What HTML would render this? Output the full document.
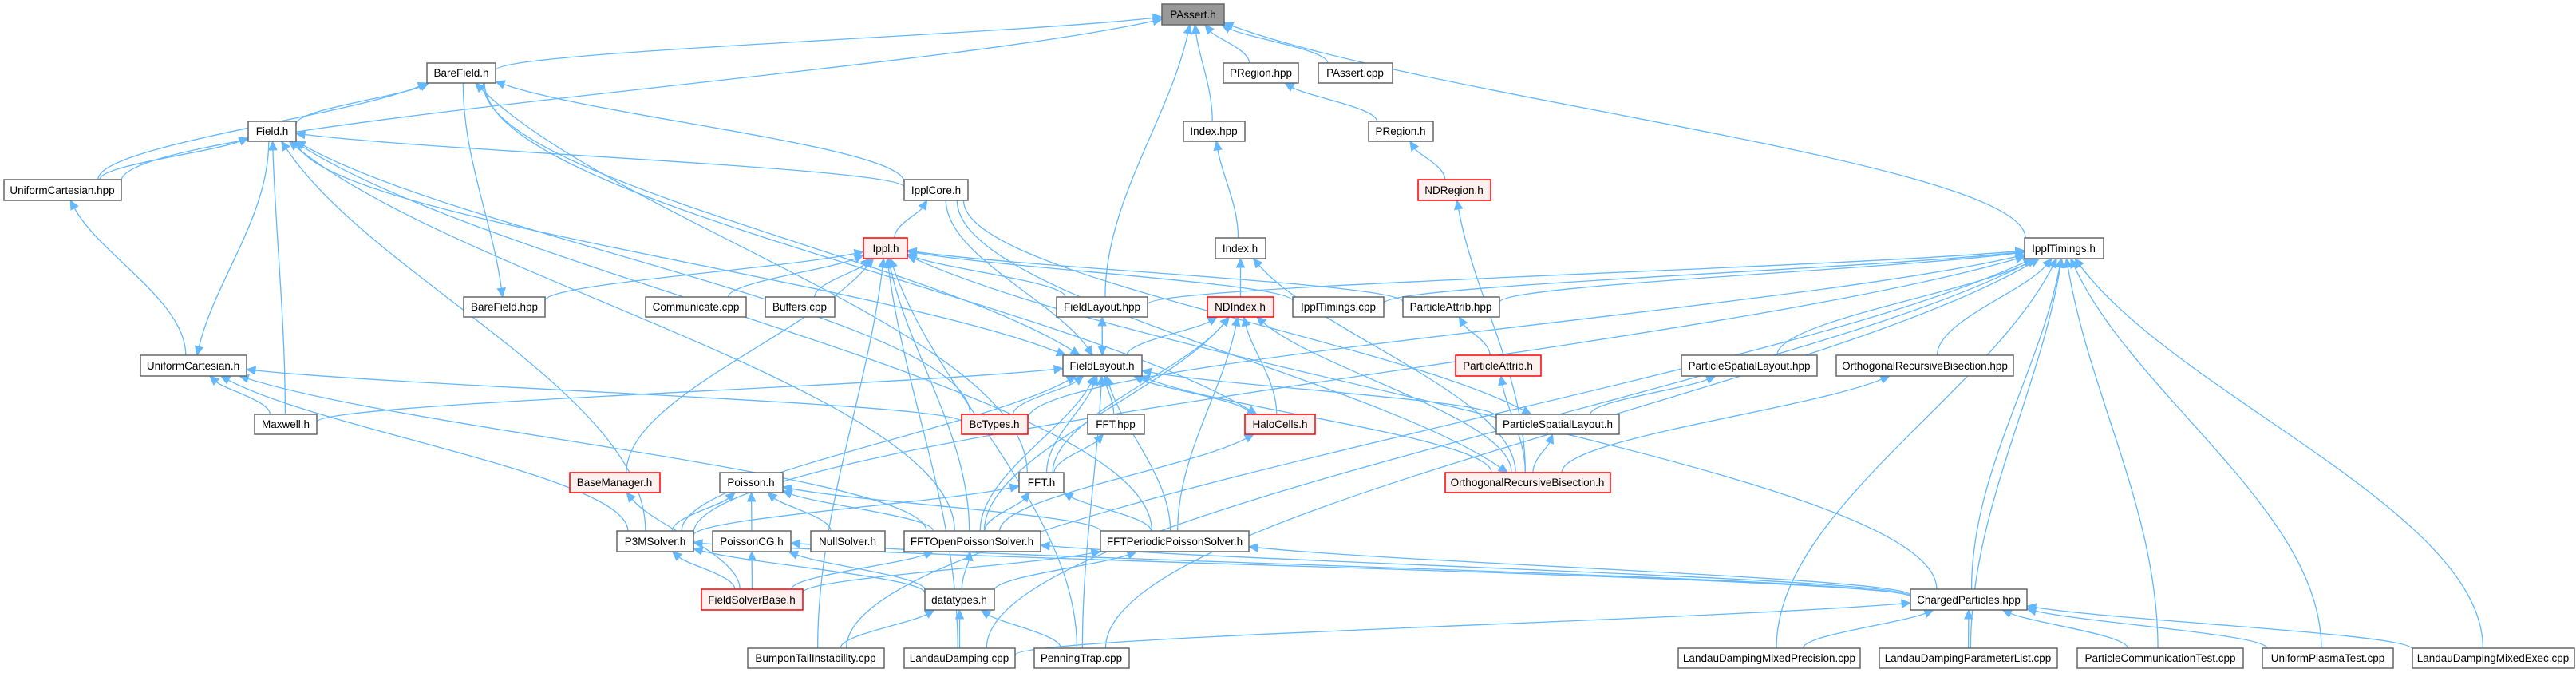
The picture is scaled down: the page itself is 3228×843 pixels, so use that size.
<!DOCTYPE html>
<html><head><meta charset="utf-8"><style>
html,body{margin:0;padding:0;background:#fff;}
svg{display:block;}
text{font-family:"Liberation Sans",Arial,sans-serif;font-size:13.5px;fill:#000;}
</style></head><body>
<svg id="g" width="3228" height="843" viewBox="0 0 3228 843" xmlns="http://www.w3.org/2000/svg">
<g id="edges"></g>
<g id="nodes"></g>
</svg>
<script>
var N={
PAssert:[1456,5,1534,31,'PAssert.h','g'],
BareFieldh:[535,79,621,104,'BareField.h'],
PRegionhpp:[1533,79,1627,104,'PRegion.hpp'],
PAssertcpp:[1652,79,1745,104,'PAssert.cpp'],
Fieldh:[311,152,371,177,'Field.h'],
Indexhpp:[1483,152,1560,177,'Index.hpp'],
PRegionh:[1715,152,1796,177,'PRegion.h'],
UCHpp:[5,225,152,251,'UniformCartesian.hpp'],
IpplCore:[1133,225,1213,251,'IpplCore.h'],
NDRegion:[1777,225,1868,251,'NDRegion.h','r'],
Ippl:[1082,298,1137,324,'Ippl.h','r'],
Indexh:[1523,298,1586,324,'Index.h'],
IpplTimings:[2537,298,2636,324,'IpplTimings.h'],
BareFieldhpp:[581,372,683,397,'BareField.hpp'],
Communicate:[809,372,935,397,'Communicate.cpp'],
Buffers:[959,372,1046,397,'Buffers.cpp'],
FieldLayouthpp:[1324,372,1438,397,'FieldLayout.hpp'],
NDIndex:[1513,372,1596,397,'NDIndex.h','r'],
IpplTimingscpp:[1620,372,1734,397,'IpplTimings.cpp'],
ParticleAttribhpp:[1758,372,1879,397,'ParticleAttrib.hpp'],
UCh:[176,445,309,471,'UniformCartesian.h'],
FieldLayouth:[1332,445,1431,471,'FieldLayout.h'],
ParticleAttribh:[1824,445,1931,471,'ParticleAttrib.h','r'],
PSLhpp:[2107,445,2277,471,'ParticleSpatialLayout.hpp'],
ORBhpp:[2301,445,2523,471,'OrthogonalRecursiveBisection.hpp'],
Maxwell:[319,519,397,544,'Maxwell.h'],
BcTypes:[1205,519,1288,544,'BcTypes.h','r'],
FFThpp:[1363,519,1434,544,'FFT.hpp'],
HaloCells:[1560,519,1648,544,'HaloCells.h','r'],
PSLh:[1875,519,2029,544,'ParticleSpatialLayout.h'],
BaseManager:[714,592,827,617,'BaseManager.h','r'],
Poisson:[902,592,981,617,'Poisson.h'],
FFTh:[1277,592,1333,617,'FFT.h'],
ORBh:[1811,592,2018,617,'OrthogonalRecursiveBisection.h','r'],
P3M:[773,665,869,691,'P3MSolver.h'],
PoissonCG:[893,665,991,691,'PoissonCG.h'],
NullSolver:[1016,665,1109,691,'NullSolver.h'],
FFTOpen:[1133,665,1304,691,'FFTOpenPoissonSolver.h'],
FFTPer:[1379,665,1565,691,'FFTPeriodicPoissonSolver.h'],
FSB:[879,738,1006,764,'FieldSolverBase.h','r'],
datatypes:[1159,738,1246,764,'datatypes.h'],
Charged:[2394,738,2540,764,'ChargedParticles.hpp'],
Bumpon:[937,812,1108,837,'BumponTailInstability.cpp'],
Landau:[1133,812,1272,837,'LandauDamping.cpp'],
Penning:[1296,812,1415,837,'PenningTrap.cpp'],
LDMP:[2103,812,2331,837,'LandauDampingMixedPrecision.cpp'],
LDPL:[2355,812,2578,837,'LandauDampingParameterList.cpp'],
PCT:[2603,812,2811,837,'ParticleCommunicationTest.cpp'],
UPT:[2835,812,2999,837,'UniformPlasmaTest.cpp'],
LDME:[3023,812,3226,837,'LandauDampingMixedExec.cpp']
};
var E=[
['PAssert','BareFieldh'],['PAssert','UCHpp'],['PAssert','PRegionhpp'],['PAssert','PAssertcpp'],['PAssert','Indexhpp'],['PAssert','FieldLayouthpp'],['PAssert','IpplTimings'],
['BareFieldh','Fieldh'],['BareFieldh','UCHpp'],['BareFieldhpp','BareFieldh'],['BareFieldh','IpplCore'],['FieldLayouth','BareFieldh'],['HaloCells','BareFieldh'],['BareFieldh','FFTh'],
['Fieldh','UCHpp'],['Fieldh','IpplCore'],['UCh','Fieldh'],['UCHpp','UCh'],['Fieldh','Maxwell'],['Fieldh','P3M'],['Fieldh','FFTOpen'],['Fieldh','FFTPer'],['Fieldh','BcTypes'],['FieldLayouth','Fieldh'],
['UCh','Maxwell'],['UCh','P3M'],['UCh','FFTOpen'],['UCh','BcTypes'],['FieldLayouth','Maxwell'],
['IpplCore','Ippl'],['FieldLayouth','IpplCore'],['ORBh','IpplCore'],['PSLh','IpplCore'],
['Ippl','Communicate'],['Ippl','Buffers'],['Ippl','BareFieldhpp'],['Ippl','FieldLayouthpp'],['Ippl','IpplTimingscpp'],['Ippl','ParticleAttribhpp'],['Ippl','BaseManager'],['Ippl','Bumpon'],['Ippl','Landau'],['Ippl','Penning'],['Ippl','Charged'],['Ippl','FFTOpen'],
['Indexhpp','Indexh'],['Indexh','NDIndex'],['Indexh','ORBh'],['PRegionhpp','PRegionh'],['PRegionh','NDRegion'],['NDRegion','ORBh'],
['FieldLayouthpp','FieldLayouth'],['FieldLayouth','FieldLayouthpp'],
['NDIndex','FieldLayouth'],['NDIndex','HaloCells'],['NDIndex','FFTh'],['NDIndex','FFTOpen'],['NDIndex','FFTPer'],['NDIndex','ORBh'],
['FieldLayouth','BcTypes'],['FieldLayouth','FFThpp'],['FieldLayouth','FFTh'],['FieldLayouth','HaloCells'],['FieldLayouth','FFTOpen'],['FieldLayouth','FFTPer'],['FieldLayouth','PSLh'],['FieldLayouth','ORBh'],['FieldLayouth','P3M'],['FieldLayouth','Penning'],
['FFThpp','FFTh'],['HaloCells','FFTOpen'],['FFTh','P3M'],['FFTh','FFTOpen'],['FFTh','FFTPer'],
['Poisson','P3M'],['Poisson','PoissonCG'],['Poisson','NullSolver'],['Poisson','FFTOpen'],['Poisson','FFTPer'],
['P3M','FSB'],['P3M','Charged'],['P3M','datatypes'],['PoissonCG','FSB'],['PoissonCG','datatypes'],['PoissonCG','Charged'],
['FFTOpen','FSB'],['FFTOpen','datatypes'],['FFTOpen','Charged'],['FFTPer','FSB'],['FFTPer','datatypes'],['FFTPer','Charged'],['BaseManager','FSB'],
['datatypes','Bumpon'],['datatypes','Landau'],['datatypes','Penning'],
['IpplTimings','IpplTimingscpp'],['IpplTimings','ParticleAttribhpp'],['IpplTimings','BcTypes'],['IpplTimings','PSLhpp'],['IpplTimings','ORBhpp'],['IpplTimings','FieldLayouthpp'],['IpplTimings','P3M'],['IpplTimings','Charged'],['IpplTimings','LDMP'],['IpplTimings','LDPL'],['IpplTimings','PCT'],['IpplTimings','UPT'],['IpplTimings','LDME'],['IpplTimings','Penning'],['IpplTimings','Bumpon'],['IpplTimings','Landau'],
['ParticleAttribhpp','ParticleAttribh'],['ParticleAttribh','ORBh'],['PSLhpp','PSLh'],['PSLh','ORBh'],['ORBhpp','ORBh'],
['Charged','LDMP'],['Charged','LDPL'],['Charged','PCT'],['Charged','UPT'],['Charged','LDME'],['Charged','Landau']
];
var NS='http://www.w3.org/2000/svg';
function el(t,a,p){var e=document.createElementNS(NS,t);for(var k in a)e.setAttribute(k,a[k]);p.appendChild(e);return e;}
var ge=document.getElementById('edges'),gn=document.getElementById('nodes');
function clip(b,cx,cy,tx,ty){var dx=tx-cx,dy=ty-cy,hw=(b[2]-b[0])/2,hh=(b[3]-b[1])/2;var s=Math.min(dx?hw/Math.abs(dx):1e9,dy?hh/Math.abs(dy):1e9);return [cx+dx*s,cy+dy*s];}
E.forEach(function(e){var h=N[e[0]],t=N[e[1]];if(!h||!t)return;
var hx=(h[0]+h[2])/2,hy=(h[1]+h[3])/2,tx=(t[0]+t[2])/2,ty=(t[1]+t[3])/2;
var ph=clip(h,hx,hy,tx,ty),pt=clip(t,tx,ty,hx,hy);
var vy=pt[1]-ph[1];
var c1=[pt[0],pt[1]-vy*0.35],c2=[ph[0]+(pt[0]-ph[0])*0.25,ph[1]+vy*0.35];
var dx=c2[0]-ph[0],dy=c2[1]-ph[1],L=Math.sqrt(dx*dx+dy*dy)||1;var ux=dx/L,uy=dy/L;
var al=11,aw=5;var bx=ph[0]+ux*al,by=ph[1]+uy*al;
el('path',{d:'M'+pt[0]+','+pt[1]+' C'+c1[0]+','+c1[1]+' '+c2[0]+','+c2[1]+' '+bx+','+by,fill:'none',stroke:'#63b8ff','stroke-width':1.3},ge);
el('polygon',{points:ph[0]+','+ph[1]+' '+(bx-uy*aw)+','+(by+ux*aw)+' '+(bx+uy*aw)+','+(by-ux*aw),fill:'#63b8ff',stroke:'#63b8ff'},ge);
});
for(var k in N){var b=N[k];var f='#ffffff',s='#666666';if(b[5]=='r'){f='#fff0f0';s='#ff0000';}if(b[5]=='g'){f='#999999';s='#666666';}
el('rect',{x:b[0],y:b[1],width:b[2]-b[0],height:b[3]-b[1],fill:f,stroke:s,'stroke-width':1.5},gn);}
</script>
<svg style="position:absolute;left:0;top:0" width="3228" height="843" viewBox="0 0 3228 843" xmlns="http://www.w3.org/2000/svg">
<g text-anchor="middle" font-family="Liberation Sans, Arial, sans-serif" font-size="13.5">
<text x="1495" y="23">PAssert.h</text>
<text x="578" y="96">BareField.h</text>
<text x="1580" y="96">PRegion.hpp</text>
<text x="1698" y="96">PAssert.cpp</text>
<text x="341" y="169">Field.h</text>
<text x="1521" y="169">Index.hpp</text>
<text x="1755" y="169">PRegion.h</text>
<text x="78" y="243">UniformCartesian.hpp</text>
<text x="1173" y="243">IpplCore.h</text>
<text x="1822" y="243">NDRegion.h</text>
<text x="1110" y="316">Ippl.h</text>
<text x="1554" y="316">Index.h</text>
<text x="2586" y="316">IpplTimings.h</text>
<text x="632" y="389">BareField.hpp</text>
<text x="872" y="389">Communicate.cpp</text>
<text x="1002" y="389">Buffers.cpp</text>
<text x="1381" y="389">FieldLayout.hpp</text>
<text x="1554" y="389">NDIndex.h</text>
<text x="1677" y="389">IpplTimings.cpp</text>
<text x="1818" y="389">ParticleAttrib.hpp</text>
<text x="242" y="463">UniformCartesian.h</text>
<text x="1381" y="463">FieldLayout.h</text>
<text x="1877" y="463">ParticleAttrib.h</text>
<text x="2192" y="463">ParticleSpatialLayout.hpp</text>
<text x="2412" y="463">OrthogonalRecursiveBisection.hpp</text>
<text x="358" y="536">Maxwell.h</text>
<text x="1246" y="536">BcTypes.h</text>
<text x="1398" y="536">FFT.hpp</text>
<text x="1604" y="536">HaloCells.h</text>
<text x="1952" y="536">ParticleSpatialLayout.h</text>
<text x="770" y="609">BaseManager.h</text>
<text x="941" y="609">Poisson.h</text>
<text x="1305" y="609">FFT.h</text>
<text x="1914" y="609">OrthogonalRecursiveBisection.h</text>
<text x="821" y="683">P3MSolver.h</text>
<text x="942" y="683">PoissonCG.h</text>
<text x="1062" y="683">NullSolver.h</text>
<text x="1218" y="683">FFTOpenPoissonSolver.h</text>
<text x="1472" y="683">FFTPeriodicPoissonSolver.h</text>
<text x="942" y="756">FieldSolverBase.h</text>
<text x="1202" y="756">datatypes.h</text>
<text x="2467" y="756">ChargedParticles.hpp</text>
<text x="1022" y="829">BumponTailInstability.cpp</text>
<text x="1202" y="829">LandauDamping.cpp</text>
<text x="1355" y="829">PenningTrap.cpp</text>
<text x="2217" y="829">LandauDampingMixedPrecision.cpp</text>
<text x="2466" y="829">LandauDampingParameterList.cpp</text>
<text x="2707" y="829">ParticleCommunicationTest.cpp</text>
<text x="2917" y="829">UniformPlasmaTest.cpp</text>
<text x="3124" y="829">LandauDampingMixedExec.cpp</text>
</g>
</svg>
</body></html>
